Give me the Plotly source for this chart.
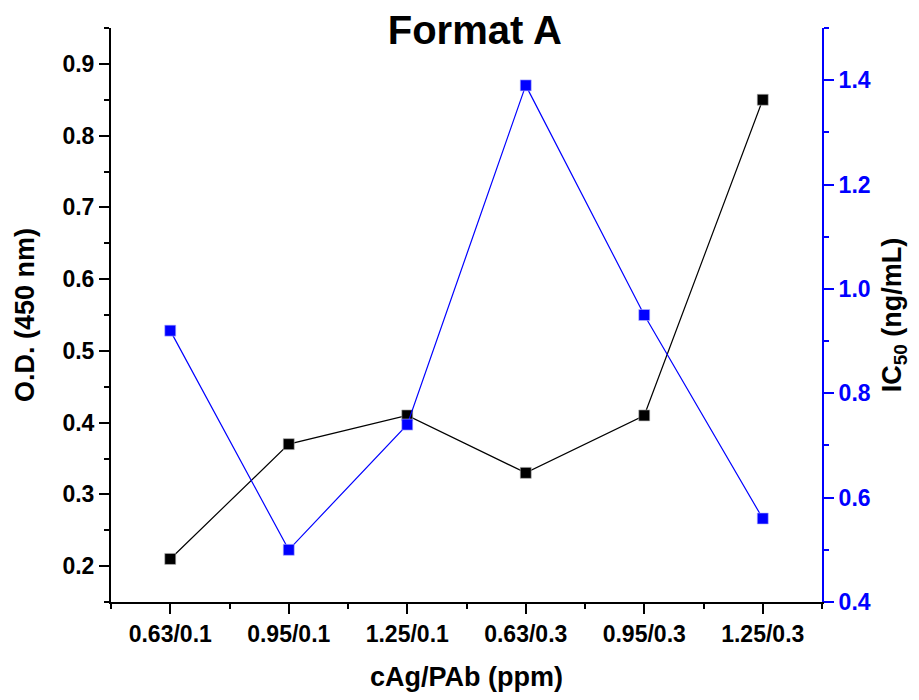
import plotly.graph_objects as go

categories = ["0.63/0.1", "0.95/0.1", "1.25/0.1", "0.63/0.3", "0.95/0.3", "1.25/0.3"]
od_values = [0.21, 0.37, 0.41, 0.33, 0.41, 0.85]
ic50_values = [0.92, 0.50, 0.74, 1.39, 0.95, 0.56]
left_ticks = [0.2, 0.3, 0.4, 0.5, 0.6, 0.7, 0.8, 0.9]
left_minor = [0.15, 0.25, 0.35, 0.45, 0.55, 0.65, 0.75, 0.85, 0.95]
right_ticks = [0.4, 0.6, 0.8, 1.0, 1.2, 1.4]
right_minor = [0.5, 0.7, 0.9, 1.1, 1.3, 1.5]

xpos = list(range(len(categories)))
x_minor = [i - 0.5 for i in range(len(categories) + 1)]

FONT = "Liberation Sans"
BLUE = "#0000ff"
W, H = 903, 684  # page body has an 8px margin

fig = go.Figure()
fig.add_trace(go.Scatter(
    x=xpos, y=od_values, mode="lines+markers", name="O.D.",
    line=dict(color="black", width=1.2),
    marker=dict(symbol="square", size=11, color="black", line=dict(color="#bbbbbb", width=0.6)),
    yaxis="y", cliponaxis=False,
))
fig.add_trace(go.Scatter(
    x=xpos, y=ic50_values, mode="lines+markers", name="IC50",
    line=dict(color=BLUE, width=1.2),
    marker=dict(symbol="square", size=11, color=BLUE, line=dict(color="#bbbbff", width=0.6)),
    yaxis="y2", cliponaxis=False,
))

tick_font_black = dict(size=23, family=FONT, color="black", weight="bold")
tick_font_blue = dict(size=23, family=FONT, color=BLUE, weight="bold")
title_font = dict(size=27, family=FONT, color="black", weight="bold")

fig.update_layout(
    width=W, height=H,
    margin=dict(l=103, r=89, t=20, b=90, autoexpand=False),
    paper_bgcolor="white", plot_bgcolor="white",
    showlegend=False,
    font=dict(family=FONT, color="black"),
    title=dict(text="Format A", x=462 / W, xanchor="center", xref="paper",
               y=1 - 22 / H, yanchor="middle",
               font=dict(size=40, family=FONT, color="black", weight="bold")),
    xaxis=dict(
        range=[-0.5, 5.5], tickmode="array", tickvals=xpos, ticktext=categories,
        showgrid=False, zeroline=False, automargin=False,
        showline=True, linecolor="black", linewidth=2,
        ticks="outside", ticklen=10, tickwidth=2, tickcolor="black",
        tickfont=tick_font_black,
        minor=dict(tickmode="array", tickvals=x_minor, ticks="outside", ticklen=5,
                   tickwidth=2, tickcolor="black", showgrid=False),
        title=dict(text="cAg/PAb (ppm)", font=title_font, standoff=27),
    ),
    yaxis=dict(
        range=[0.15, 0.95], tickmode="array", tickvals=left_ticks,
        ticktext=[f"{v:.1f}" for v in left_ticks],
        showgrid=False, zeroline=False, automargin=False,
        showline=True, linecolor="black", linewidth=2,
        ticks="outside", ticklen=10, tickwidth=2, tickcolor="black",
        tickfont=tick_font_black,
        minor=dict(tickmode="array", tickvals=left_minor, ticks="outside", ticklen=5,
                   tickwidth=2, tickcolor="black", showgrid=False),
        title=dict(text="O.D. (450 nm)", font=title_font, standoff=20),
    ),
    yaxis2=dict(
        range=[0.4, 1.5], overlaying="y", side="right", anchor="x",
        tickmode="array", tickvals=right_ticks,
        ticktext=[f"{v:.1f}" for v in right_ticks],
        showgrid=False, zeroline=False, automargin=False,
        showline=True, linecolor=BLUE, linewidth=2,
        ticks="outside", ticklen=10, tickwidth=2, tickcolor=BLUE,
        tickfont=tick_font_blue,
        minor=dict(tickmode="array", tickvals=right_minor, ticks="outside", ticklen=5,
                   tickwidth=2, tickcolor=BLUE, showgrid=False),
        title=dict(text="IC<sub>50</sub> (ng/mL)", font=title_font, standoff=22),
    ),
)

fig.write_html("out.html")
